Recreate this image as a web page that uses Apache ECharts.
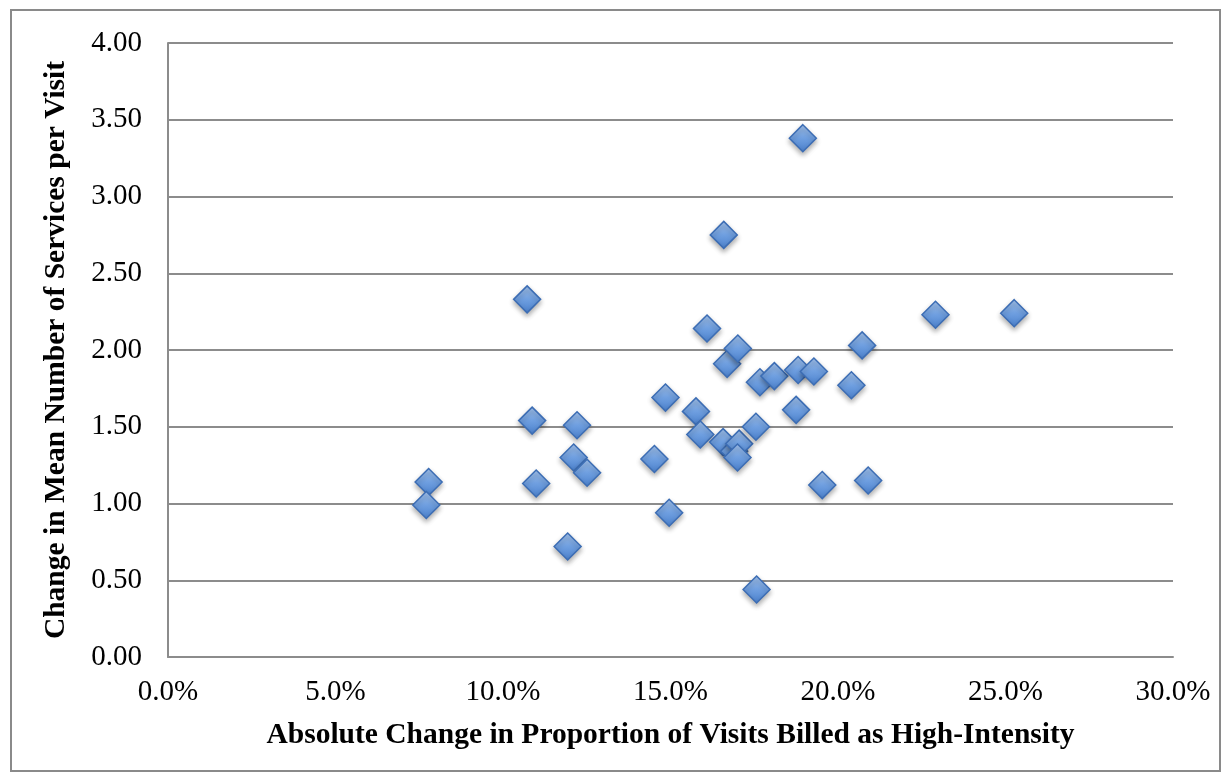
<!DOCTYPE html>
<html><head><meta charset="utf-8">
<script src="https://cdn.jsdelivr.net/npm/echarts@6/dist/echarts.min.js"></script>
<style>html,body{margin:0;padding:0;background:#fff}#c{width:1231px;height:782px}</style>
</head><body><div id="c"></div>
<script>
// x: absolute change in proportion billed high-intensity (%), y: change in mean services per visit
const xValues = [7.78, 7.71, 10.72, 10.87, 10.99, 11.93, 12.11, 12.21, 12.51, 14.52, 14.85, 14.96, 15.76, 15.89, 16.09, 16.59, 16.57, 16.69, 16.90, 17.05, 17.00, 17.01, 17.55, 17.57, 17.67, 18.10, 18.75, 18.81, 18.95, 19.28, 19.53, 20.40, 20.72, 20.90, 22.91, 25.26];
const yValues = [1.14, 0.99, 2.33, 1.54, 1.13, 0.72, 1.30, 1.51, 1.20, 1.29, 1.69, 0.94, 1.60, 1.45, 2.14, 2.75, 1.40, 1.91, 1.34, 1.39, 1.30, 2.01, 1.50, 0.44, 1.79, 1.83, 1.61, 1.87, 3.38, 1.86, 1.12, 1.77, 2.03, 1.15, 2.23, 2.24];
const xTitle = 'Absolute Change in Proportion of Visits Billed as High-Intensity';
const yTitle = 'Change in Mean Number of Services per Visit';

const points = xValues.map((x, i) => [x, yValues[i]]);
const chart = echarts.init(document.getElementById('c'));
const font = 'Liberation Serif';
chart.setOption({
  backgroundColor: '#fff',
  animation: false,
  graphic: [{type: 'rect', shape: {x: 11, y: 10, width: 1209, height: 761}, style: {fill: 'none', stroke: '#8a8a8a', lineWidth: 2}, z: -1}],
  grid: {left: 168, right: 58, top: 43, bottom: 125},
  xAxis: {
    type: 'value', min: 0, max: 30, interval: 5,
    name: xTitle, nameLocation: 'middle', nameGap: 63,
    nameTextStyle: {fontFamily: font, fontWeight: 'bold', fontSize: 29.5, color: '#000'},
    axisLine: {show: true, lineStyle: {color: '#8c8c8c', width: 2}},
    axisTick: {show: false},
    splitLine: {show: false},
    axisLabel: {fontFamily: font, fontSize: 29, color: '#000', margin: 21, formatter: v => v.toFixed(1) + '%'}
  },
  yAxis: {
    type: 'value', min: 0, max: 4, interval: 0.5,
    name: yTitle, nameLocation: 'middle', nameGap: 97,
    nameTextStyle: {fontFamily: font, fontWeight: 'bold', fontSize: 29.5, color: '#000'},
    axisLine: {show: true, lineStyle: {color: '#8c8c8c', width: 2}},
    axisTick: {show: false},
    splitLine: {show: true, lineStyle: {color: '#8c8c8c', width: 2}},
    axisLabel: {fontFamily: font, fontSize: 29, color: '#000', margin: 26, formatter: v => v.toFixed(2)}
  },
  series: [{
    type: 'scatter',
    data: points,
    symbol: 'diamond',
    symbolSize: 27,
    itemStyle: {
      opacity: 1,
      color: new echarts.graphic.LinearGradient(0, 0, 0, 1, [
        {offset: 0, color: '#a6c6f0'},
        {offset: 0.5, color: '#6f9fe0'},
        {offset: 1, color: '#4a80cc'}
      ]),
      borderColor: '#3c6db4', borderWidth: 1.5,
      shadowBlur: 5, shadowOffsetY: 3, shadowColor: 'rgba(0,0,0,0.3)'
    }
  }]
});
</script></body></html>
